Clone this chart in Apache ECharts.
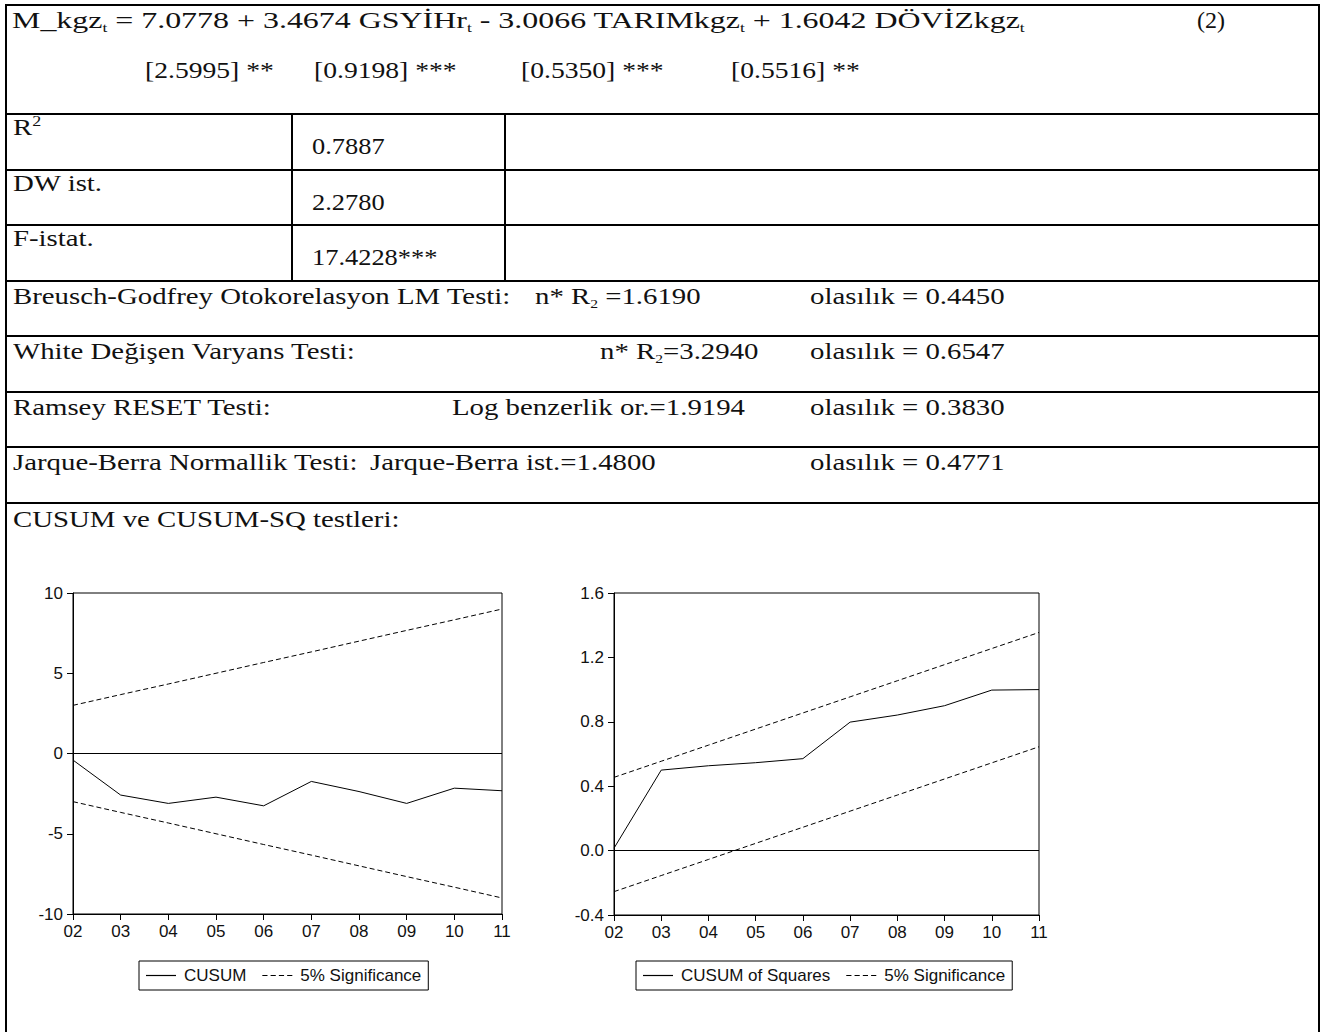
<!DOCTYPE html>
<html>
<head>
<meta charset="utf-8">
<script src="https://cdn.jsdelivr.net/npm/echarts@6/dist/echarts.min.js"></script>
<style>
html,body{margin:0;padding:0;background:#fff;}
#page{position:relative;width:1320px;height:1032px;overflow:hidden;background:#fff;
  font-family:"Liberation Serif","Times New Roman",serif;font-size:24px;color:#111;}
.hl{position:absolute;height:2px;background:#000;}
.vl{position:absolute;width:2px;background:#000;}
.t{position:absolute;white-space:nowrap;line-height:24px;transform-origin:0 0;}
.t sub{font-size:13px;vertical-align:-4px;line-height:0;}
.t sup{font-size:15px;vertical-align:9px;line-height:0;}
#chart{position:absolute;left:0;top:0;width:1320px;height:1032px;}
</style>
</head>
<body>
<div id="page"><div id="chart"></div></div>
<script>
// ---------- data ----------
const coefs = ['7.0778', '3.4674', '3.0066', '1.6042'];
const stdErrs = ['[2.5995] **', '[0.9198] ***', '[0.5350] ***', '[0.5516] **'];
const eqNumber = '(2)';
const fitLabels = ['R<sup>2</sup>', 'DW ist.', 'F-istat.'];
const fitValues = ['0.7887', '2.2780', '17.4228***'];
const testNames = ['Breusch-Godfrey Otokorelasyon LM Testi:', 'White Değişen Varyans Testi:', 'Ramsey RESET Testi:', 'Jarque-Berra Normallik Testi:'];
const testStats = ['n* R<sub>2</sub> =1.6190', 'n* R<sub>2</sub>=3.2940', 'Log benzerlik or.=1.9194', 'Jarque-Berra ist.=1.4800'];
const testProbs = ['olasılık = 0.4450', 'olasılık = 0.6547', 'olasılık = 0.3830', 'olasılık = 0.4771'];
const cusumTitle = 'CUSUM ve CUSUM-SQ testleri:';

const years = ['02', '03', '04', '05', '06', '07', '08', '09', '10', '11'];
const cusum = [-0.41, -2.59, -3.11, -2.72, -3.26, -1.74, -2.37, -3.11, -2.16, -2.32];
const cusumUpper = [3.00, 3.67, 4.33, 5.00, 5.67, 6.33, 7.00, 7.67, 8.33, 9.00];
const cusumLower = [-3.00, -3.67, -4.33, -5.00, -5.67, -6.33, -7.00, -7.67, -8.33, -9.00];
const cusumSq = [0.015, 0.50, 0.527, 0.546, 0.571, 0.798, 0.842, 0.90, 0.997, 1.00];
const sqUpper = [0.455, 0.555, 0.655, 0.755, 0.855, 0.955, 1.055, 1.155, 1.255, 1.355];
const sqLower = [-0.255, -0.155, -0.055, 0.045, 0.145, 0.245, 0.345, 0.445, 0.545, 0.645];

// ---------- table layout ----------
const page = document.getElementById('page');
function add(cls, css, html) {
  const d = document.createElement('div');
  d.className = cls;
  Object.assign(d.style, css);
  if (html !== undefined) d.innerHTML = html;
  page.appendChild(d);
  return d;
}
function txt(x, y, k, html) {
  return add('t', {left: x + 'px', top: y + 'px', transform: 'scaleX(' + k + ')'}, html);
}
const rowLines = [114, 169.5, 225, 280.5, 336, 391.5, 447, 502.5];
add('hl', {left: '5px', top: '4px', width: '1314px'});
rowLines.forEach(y => add('hl', {left: '5px', top: (y - 1) + 'px', width: '1314px'}));
add('vl', {left: '5px', top: '4px', height: '1040px'});
add('vl', {left: '1317.5px', top: '4px', height: '1040px'});
add('vl', {left: '291px', top: '113px', height: '168px'});
add('vl', {left: '504px', top: '113px', height: '168px'});

const eq = 'M_kgz<sub>t</sub> = ' + coefs[0] + ' + ' + coefs[1] + ' GSYİHr<sub>t</sub> - ' + coefs[2] +
  ' TARIMkgz<sub>t</sub> + ' + coefs[3] + ' DÖVİZkgz<sub>t</sub>';
txt(12, 8, 1.33, eq);
txt(1197, 8, 1.0, eqNumber);
const seX = [145, 314, 521, 731];
stdErrs.forEach((s, i) => txt(seX[i], 58, 1.15, s));

fitLabels.forEach((s, i) => {
  const top = rowLines[i];
  txt(13, top + 1, 1.2, s);
  txt(312, top + 20, 1.1, fitValues[i]);
});
const statX = [535, 600, 452, 370];
testNames.forEach((s, i) => {
  const top = rowLines[i + 3] + 3;
  txt(13, top, 1.2, s);
  txt(statX[i], top, 1.2, testStats[i]);
  txt(810, top, 1.2, testProbs[i]);
});
txt(13, 507, 1.2, cusumTitle);

// ---------- charts ----------
const FONT = '"Liberation Sans", Arial, sans-serif';
const black = '#000';
const solidIcon = 'path://M0,0h30v1.2h-30z';
const dashIcon = 'path://M0,0h5v1.2h-5zM8,0h5v1.2h-5zM16,0h5v1.2h-5zM24,0h5v1.2h-5z';
function xAxis(gi) {
  return {
    type: 'category', gridIndex: gi, data: years, boundaryGap: false,
    axisLine: {onZero: false, lineStyle: {color: black, width: 1}},
    axisTick: {show: true, length: 6, lineStyle: {color: black}},
    axisLabel: {color: '#111', fontSize: 17, fontFamily: FONT, margin: 9},
    splitLine: {show: false}
  };
}
function yAxis(gi, min, max, interval, fmt) {
  return {
    type: 'value', gridIndex: gi, min: min, max: max, interval: interval,
    axisLine: {show: true, onZero: false, lineStyle: {color: black, width: 1}},
    axisTick: {show: true, length: 6, lineStyle: {color: black}},
    axisLabel: {color: '#111', fontSize: 17, fontFamily: FONT, margin: 10, formatter: fmt},
    splitLine: {show: false}
  };
}
const dash = [5, 3];
function lineSeries(name, data, gi, dashed, zero) {
  const s = {
    name: name, type: 'line', data: data, xAxisIndex: gi, yAxisIndex: gi,
    symbol: 'none', showSymbol: false, silent: true,
    lineStyle: {color: black, width: 1, type: dashed ? dash : 'solid'},
    itemStyle: {color: black}
  };
  if (zero) {
    s.markLine = {
      silent: true, symbol: ['none', 'none'], label: {show: false},
      lineStyle: {color: black, width: 1, type: 'solid'},
      data: [{yAxis: 0}]
    };
  }
  return s;
}
function legend(left, names) {
  return {
    left: left, top: 961, orient: 'horizontal',
    data: [{name: names[0], icon: solidIcon}, {name: names[1], icon: dashIcon}],
    selectedMode: false,
    borderColor: black, borderWidth: 1, borderRadius: 0,
    padding: [6, 7, 6, 7], itemGap: 16, itemWidth: 30, itemHeight: 14,
    itemStyle: {color: black, borderWidth: 0},
    lineStyle: {width: 0},
    textStyle: {color: '#111', fontSize: 17, fontFamily: FONT, padding: [0, 0, 0, 3]}
  };
}
const chart = echarts.init(document.getElementById('chart'), null, {renderer: 'svg'});
chart.setOption({
  animation: false,
  backgroundColor: 'transparent',
  grid: [
    {left: 73, top: 593, width: 429, height: 321, show: true, borderColor: black, borderWidth: 1, backgroundColor: 'transparent'},
    {left: 614, top: 593, width: 425, height: 322, show: true, borderColor: black, borderWidth: 1, backgroundColor: 'transparent'}
  ],
  xAxis: [xAxis(0), xAxis(1)],
  yAxis: [
    yAxis(0, -10, 10, 5, v => String(v)),
    yAxis(1, -0.4, 1.6, 0.4, v => (Math.abs(v) < 1e-9 ? 0 : v).toFixed(1))
  ],
  legend: [
    legend(139, ['CUSUM', '5% Significance']),
    legend(636, ['CUSUM of Squares', '5% Significance'])
  ],
  series: [
    lineSeries('CUSUM', cusum, 0, false, true),
    lineSeries('5% Significance', cusumUpper, 0, true),
    lineSeries('5% Significance', cusumLower, 0, true),
    lineSeries('CUSUM of Squares', cusumSq, 1, false, true),
    lineSeries('5% Significance', sqUpper, 1, true),
    lineSeries('5% Significance', sqLower, 1, true)
  ]
});
</script>
</body>
</html>
